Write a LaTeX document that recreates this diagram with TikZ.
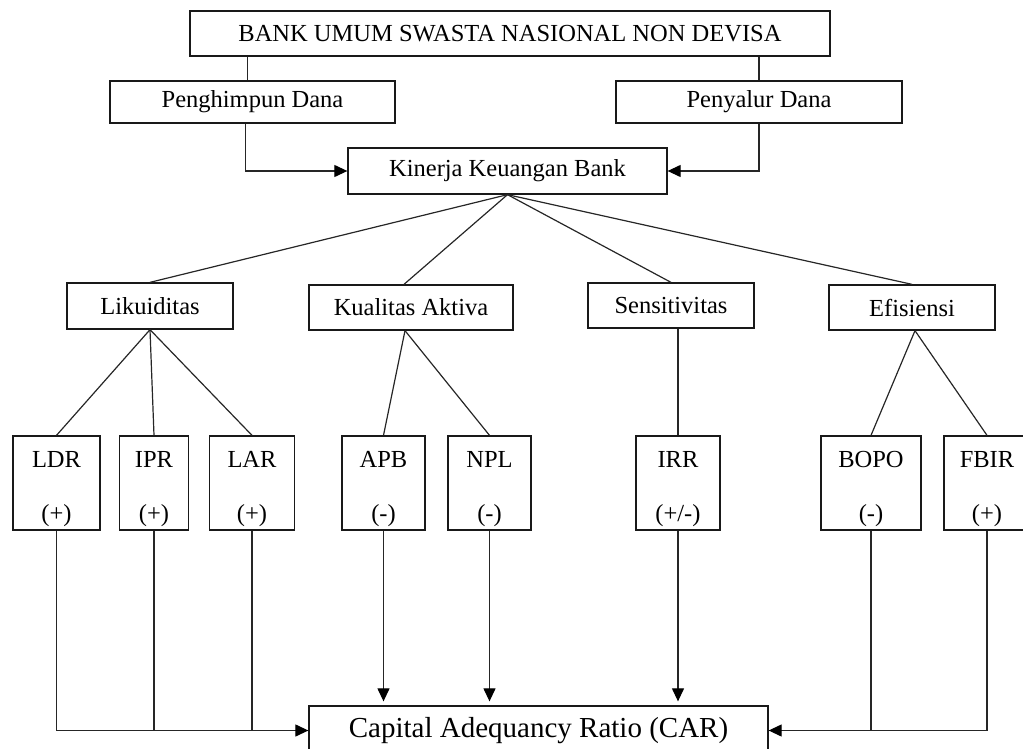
\documentclass[tikz,border=0pt]{standalone}
\usepackage{fontspec}
\setmainfont{Liberation Serif}
\usetikzlibrary{arrows.meta,calc}
\begin{document}
\begin{tikzpicture}[x=1pt,y=-1pt,
  box/.style={draw=black!90,line width=1.3pt,inner sep=0pt,align=center,
    font=\fontsize{24.5}{29}\selectfont},
  ratio/.style={box,minimum height=94pt},
  conn/.style={draw=black!85,line width=1.2pt},
  arr/.style={conn,-{Triangle[length=13pt,width=12pt,color=black]}}]
\useasboundingbox (0,0) rectangle (1023,749);
\clip (0,0) rectangle (1023,749);
% top levels
\node[box,minimum width=640pt,minimum height=45pt] (top) at (510,33.5) {BANK UMUM SWASTA NASIONAL NON DEVISA};
\node[box,minimum width=285pt,minimum height=42pt] (pengh) at (252.5,102) {Penghimpun Dana};
\node[box,minimum width=286pt,minimum height=42pt] (peny) at (759,102) {Penyalur Dana};
\node[box,minimum width=319pt,minimum height=46pt] (kin) at (507.5,171) {Kinerja Keuangan Bank};
% second level
\node[box,minimum width=166pt,minimum height=46pt] (liku) at (150,306) {Likuiditas};
\node[box,minimum width=204pt,minimum height=45pt] (kual) at (411,307.5) {Kualitas Aktiva};
\node[box,minimum width=166pt,minimum height=45pt] (sens) at (671,305.5) {Sensitivitas};
\node[box,minimum width=166pt,minimum height=45pt] (efis) at (912,307.5) {Efisiensi};
% ratios
\node[ratio,minimum width=87pt] (ldr) at (56.5,483) {\rule{0pt}{28pt}LDR\\[25pt](+)};
\node[ratio,minimum width=69pt] (ipr) at (154,483) {\rule{0pt}{28pt}IPR\\[25pt](+)};
\node[ratio,minimum width=85pt] (lar) at (252,483) {\rule{0pt}{28pt}LAR\\[25pt](+)};
\node[ratio,minimum width=83pt] (apb) at (383.5,483) {\rule{0pt}{28pt}APB\\[25pt](-)};
\node[ratio,minimum width=83pt] (npl) at (489.5,483) {\rule{0pt}{28pt}NPL\\[25pt](-)};
\node[ratio,minimum width=84pt] (irr) at (678,483) {\rule{0pt}{28pt}IRR\\[25pt](+/-)};
\node[ratio,minimum width=100pt] (bopo) at (871,483) {\rule{0pt}{28pt}BOPO\\[25pt](-)};
\node[ratio,minimum width=86pt] (fbir) at (987,483) {\rule{0pt}{28pt}FBIR\\[25pt](+)};
% result
\node[box,minimum width=459pt,minimum height=49pt,font=\fontsize{29}{34}\selectfont] (car) at (538.5,730.5) {Capital Adequancy Ratio (CAR)};
% top connectors
\coordinate (pn) at ([xshift=-5pt]pengh.north);
\draw[conn] (pn |- top.south) -- (pn);
\draw[conn] (peny.north |- top.south) -- (peny.north);
\draw[arr] ([xshift=-7pt]pengh.south) |- (kin.west);
\draw[arr] (peny.south) |- (kin.east);
% fan
\coordinate (kb) at (kin.south);
\draw[conn] (kb) -- (liku.north);
\draw[conn] (kb) -- ([xshift=-7pt]kual.north);
\draw[conn] (kb) -- (sens.north);
\draw[conn] (kb) -- (efis.north);
% second level to ratios
\coordinate (lb) at (liku.south);
\draw[conn] (lb) -- (ldr.north);
\draw[conn] (lb) -- (ipr.north);
\draw[conn] (lb) -- (lar.north);
\coordinate (qb) at ([xshift=-6pt]kual.south);
\draw[conn] (qb) -- (apb.north);
\draw[conn] (qb) -- (npl.north);
\draw[conn] (sens.south -| irr.north) -- (irr.north);
\coordinate (eb) at ([xshift=3pt]efis.south);
\draw[conn] (eb) -- (bopo.north);
\draw[conn] (eb) -- (fbir.north);
% ratios to CAR
\draw[arr] (ldr.south) |- (car.west);
\draw[conn] (ipr.south) -- (ipr.south |- car.west);
\draw[conn] (lar.south) -- (lar.south |- car.west);
\draw[arr,shorten >=4pt] (apb.south) -- (apb.south |- car.north);
\draw[arr,shorten >=4pt] (npl.south) -- (npl.south |- car.north);
\draw[arr,shorten >=4pt] (irr.south) -- (irr.south |- car.north);
\draw[arr] (fbir.south) |- (car.east);
\draw[conn] (bopo.south) -- (bopo.south |- car.east);
\end{tikzpicture}
\end{document}
